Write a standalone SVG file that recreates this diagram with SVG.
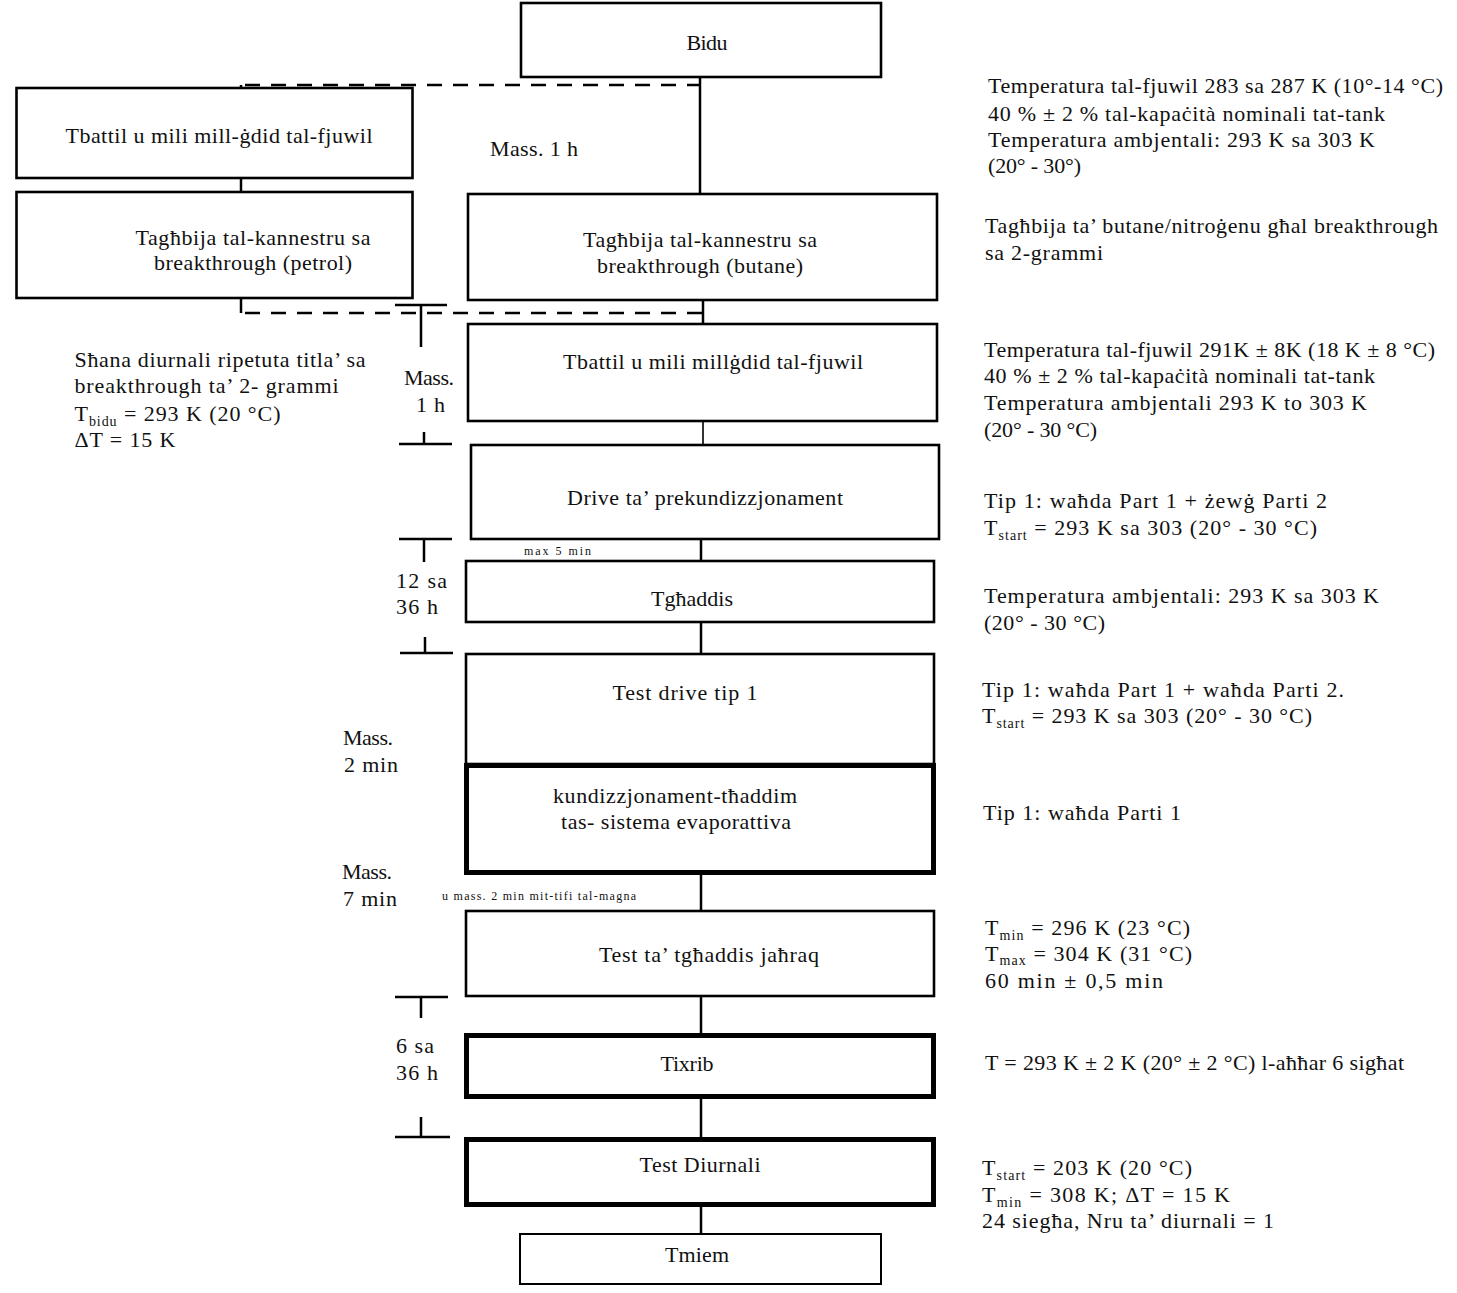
<svg xmlns="http://www.w3.org/2000/svg" width="1457" height="1293" viewBox="0 0 1457 1293">
<style>
.bg{fill:#fff}
.box{fill:#fff;stroke:#000;stroke-width:2.6}
.thick{fill:#fff;stroke:#000;stroke-width:5}
.thin{fill:#fff;stroke:#000;stroke-width:2}
.t{font-family:"Liberation Serif","DejaVu Serif",serif;font-size:22px;fill:#111}
.c{text-anchor:middle}
.s{font-size:12px}
.sub{font-size:14px}
.ln{stroke:#000;stroke-width:2.5;fill:none}
.ln2{stroke:#000;stroke-width:1.6;fill:none}
.dash{stroke:#000;stroke-width:2.6;stroke-dasharray:15 11;fill:none}
</style>
<rect class="bg" x="0" y="0" width="1457" height="1293"/>

<g id="connectors">
  <path class="ln" d="M700,77 V194"/>
  <path class="ln" d="M241,178 V192"/>
  <path class="ln" d="M241,88 V85"/>
  <path class="dash" d="M245,85 H700"/>
  <path class="ln" d="M241,298 V313"/>
  <path class="dash" d="M245,313 H703"/>
  <path class="ln" d="M703,300 V324"/>
  <path class="ln2" d="M703,421 V445"/>
  <path class="ln" d="M701,539 V561"/>
  <path class="ln" d="M701,622 V654"/>
  <path class="ln" d="M701,875 V911"/>
  <path class="ln" d="M701,996 V1033"/>
  <path class="ln" d="M701,1099 V1137"/>
  <path class="ln" d="M701,1207 V1234"/>
</g>

<g id="timing-markers">
  <path class="ln" d="M395,305 H447 M421,305 V347"/>
  <path class="ln" d="M424,432 V444 M399,444 H452"/>
  <path class="ln" d="M399,539 H452 M424,539 V562"/>
  <path class="ln" d="M425,637 V653 M400,653 H453"/>
  <path class="ln" d="M395,997 H448 M421,997 V1018"/>
  <path class="ln" d="M421,1117 V1137 M395,1137 H450"/>
</g>

<g id="n-bidu">
  <rect class="box" x="521" y="3" width="360" height="74"/>
  <text class="t c" x="707" y="50" textLength="41" lengthAdjust="spacing">Bidu</text>
</g>
<g id="n-tbattil-1">
  <rect class="box" x="16.5" y="88" width="396" height="90"/>
  <text class="t c" x="219" y="143" textLength="307" lengthAdjust="spacing">Tbattil u mili mill-ġdid tal-fjuwil</text>
</g>
<g id="n-petrol">
  <rect class="box" x="16.5" y="192" width="396" height="106"/>
  <text class="t c" x="253" y="245" textLength="235" lengthAdjust="spacing">Tagħbija tal-kannestru sa</text>
  <text class="t c" x="253" y="270" textLength="198" lengthAdjust="spacing">breakthrough (petrol)</text>
</g>
<g id="n-butane">
  <rect class="box" x="468" y="194" width="469" height="106"/>
  <text class="t c" x="700" y="247" textLength="234" lengthAdjust="spacing">Tagħbija tal-kannestru sa</text>
  <text class="t c" x="700" y="273" textLength="206" lengthAdjust="spacing">breakthrough (butane)</text>
</g>
<g id="n-tbattil-2">
  <rect class="box" x="468" y="324" width="469" height="97"/>
  <text class="t c" x="713" y="369" textLength="300" lengthAdjust="spacing">Tbattil u mili millġdid tal-fjuwil</text>
</g>
<g id="n-drive">
  <rect class="box" x="471" y="445" width="468" height="94"/>
  <text class="t c" x="705" y="505" textLength="276" lengthAdjust="spacing">Drive ta’ prekundizzjonament</text>
</g>
<g id="n-tghaddis">
  <rect class="box" x="466" y="561" width="468" height="61"/>
  <text class="t c" x="692" y="606" textLength="82" lengthAdjust="spacing">Tgħaddis</text>
</g>
<g id="n-testdrive">
  <rect class="box" x="466" y="654" width="468" height="110"/>
  <text class="t c" x="685" y="700" textLength="145" lengthAdjust="spacing">Test drive tip 1</text>
</g>
<g id="n-kundizzjonament">
  <rect class="thick" x="466.5" y="765.5" width="467" height="107"/>
  <text class="t c" x="675" y="803" textLength="244" lengthAdjust="spacing">kundizzjonament-tħaddim</text>
  <text class="t c" x="676" y="829" textLength="230" lengthAdjust="spacing">tas- sistema evaporattiva</text>
</g>
<g id="n-jahraq">
  <rect class="box" x="466" y="911" width="468" height="85"/>
  <text class="t c" x="709" y="962" textLength="220" lengthAdjust="spacing">Test ta’ tgħaddis jaħraq</text>
</g>
<g id="n-tixrib">
  <rect class="thick" x="466.5" y="1035.5" width="467" height="61"/>
  <text class="t c" x="687" y="1071" textLength="53" lengthAdjust="spacing">Tixrib</text>
</g>
<g id="n-diurnali">
  <rect class="thick" x="466.5" y="1139.5" width="467" height="65"/>
  <text class="t c" x="700" y="1172" textLength="121" lengthAdjust="spacing">Test Diurnali</text>
</g>
<g id="n-tmiem">
  <rect class="thin" x="520" y="1234" width="361" height="50"/>
  <text class="t c" x="697" y="1262" textLength="64" lengthAdjust="spacing">Tmiem</text>
</g>

<g id="left-labels">
  <text class="t" x="490" y="156" textLength="88" lengthAdjust="spacing">Mass. 1 h</text>
  <text class="t" x="404" y="385" textLength="50" lengthAdjust="spacing">Mass.</text>
  <text class="t" x="416" y="412" textLength="29" lengthAdjust="spacing">1 h</text>
  <text class="t" x="74.5" y="367" textLength="291" lengthAdjust="spacing">Sħana diurnali ripetuta titla’ sa</text>
  <text class="t" x="74.5" y="393" textLength="264" lengthAdjust="spacing">breakthrough ta’ 2- grammi</text>
  <text class="t" x="74.5" y="421" textLength="206" lengthAdjust="spacing">T<tspan class="sub" dy="5">bidu</tspan><tspan dy="-5"> = 293 K (20 °C)</tspan></text>
  <text class="t" x="74.5" y="447" textLength="101" lengthAdjust="spacing">ΔT = 15 K</text>
  <text class="t" x="396" y="588" textLength="51" lengthAdjust="spacing">12 sa</text>
  <text class="t" x="396" y="614" textLength="42" lengthAdjust="spacing">36 h</text>
  <text class="t" x="343" y="745" textLength="50" lengthAdjust="spacing">Mass.</text>
  <text class="t" x="344" y="772" textLength="54" lengthAdjust="spacing">2 min</text>
  <text class="t" x="342" y="879" textLength="50" lengthAdjust="spacing">Mass.</text>
  <text class="t" x="343" y="906" textLength="54" lengthAdjust="spacing">7 min</text>
  <text class="t" x="396" y="1053" textLength="38" lengthAdjust="spacing">6 sa</text>
  <text class="t" x="396" y="1080" textLength="42" lengthAdjust="spacing">36 h</text>
  <text class="t s" x="524" y="555" textLength="67" lengthAdjust="spacing">max 5 min</text>
  <text class="t s" x="442" y="900" textLength="194" lengthAdjust="spacing">u mass. 2 min mit-tifi tal-magna</text>
</g>

<g id="right-notes">
  <text class="t" x="988" y="93" textLength="455" lengthAdjust="spacing">Temperatura tal-fjuwil 283 sa 287 K (10°-14 °C)</text>
  <text class="t" x="988" y="121" textLength="397" lengthAdjust="spacing">40 % ± 2 % tal-kapaċità nominali tat-tank</text>
  <text class="t" x="988" y="147" textLength="387" lengthAdjust="spacing">Temperatura ambjentali: 293 K sa 303 K</text>
  <text class="t" x="988" y="173" textLength="93" lengthAdjust="spacing">(20° - 30°)</text>

  <text class="t" x="985" y="233" textLength="453" lengthAdjust="spacing">Tagħbija ta’ butane/nitroġenu għal breakthrough</text>
  <text class="t" x="985" y="260" textLength="118" lengthAdjust="spacing">sa 2-grammi</text>

  <text class="t" x="984" y="357" textLength="451" lengthAdjust="spacing">Temperatura tal-fjuwil 291K ± 8K (18 K ± 8 °C)</text>
  <text class="t" x="984" y="383" textLength="391" lengthAdjust="spacing">40 % ± 2 % tal-kapaċità nominali tat-tank</text>
  <text class="t" x="984" y="410" textLength="383" lengthAdjust="spacing">Temperatura ambjentali 293 K to 303 K</text>
  <text class="t" x="984" y="437" textLength="113" lengthAdjust="spacing">(20° - 30 °C)</text>

  <text class="t" x="984" y="508" textLength="343" lengthAdjust="spacing">Tip 1: waħda Part 1 + żewġ Parti 2</text>
  <text class="t" x="984" y="535" textLength="333" lengthAdjust="spacing">T<tspan class="sub" dy="5">start</tspan><tspan dy="-5"> = 293 K sa 303 (20° - 30 °C)</tspan></text>

  <text class="t" x="984" y="603" textLength="395" lengthAdjust="spacing">Temperatura ambjentali: 293 K sa 303 K</text>
  <text class="t" x="984" y="630" textLength="121" lengthAdjust="spacing">(20° - 30 °C)</text>

  <text class="t" x="982" y="697" textLength="362" lengthAdjust="spacing">Tip 1: waħda Part 1 + waħda Parti 2.</text>
  <text class="t" x="982" y="723" textLength="330" lengthAdjust="spacing">T<tspan class="sub" dy="5">start</tspan><tspan dy="-5"> = 293 K sa 303 (20° - 30 °C)</tspan></text>

  <text class="t" x="983" y="820" textLength="198" lengthAdjust="spacing">Tip 1: waħda Parti 1</text>

  <text class="t" x="985" y="935" textLength="205" lengthAdjust="spacing">T<tspan class="sub" dy="5">min</tspan><tspan dy="-5"> = 296 K (23 °C)</tspan></text>
  <text class="t" x="985" y="961" textLength="207" lengthAdjust="spacing">T<tspan class="sub" dy="4">max</tspan><tspan dy="-4"> = 304 K (31 °C)</tspan></text>
  <text class="t" x="985" y="988" textLength="178" lengthAdjust="spacing">60 min ± 0,5 min</text>

  <text class="t" x="985" y="1070" textLength="419" lengthAdjust="spacing">T = 293 K ± 2 K (20° ± 2 °C) l-aħħar 6 sigħat</text>

  <text class="t" x="982" y="1175" textLength="210" lengthAdjust="spacing">T<tspan class="sub" dy="5">start</tspan><tspan dy="-5"> = 203 K (20 °C)</tspan></text>
  <text class="t" x="982" y="1202" textLength="248" lengthAdjust="spacing">T<tspan class="sub" dy="5">min</tspan><tspan dy="-5"> = 308 K; ΔT = 15 K</tspan></text>
  <text class="t" x="982" y="1228" textLength="292" lengthAdjust="spacing">24 siegħa, Nru ta’ diurnali = 1</text>
</g>
</svg>
